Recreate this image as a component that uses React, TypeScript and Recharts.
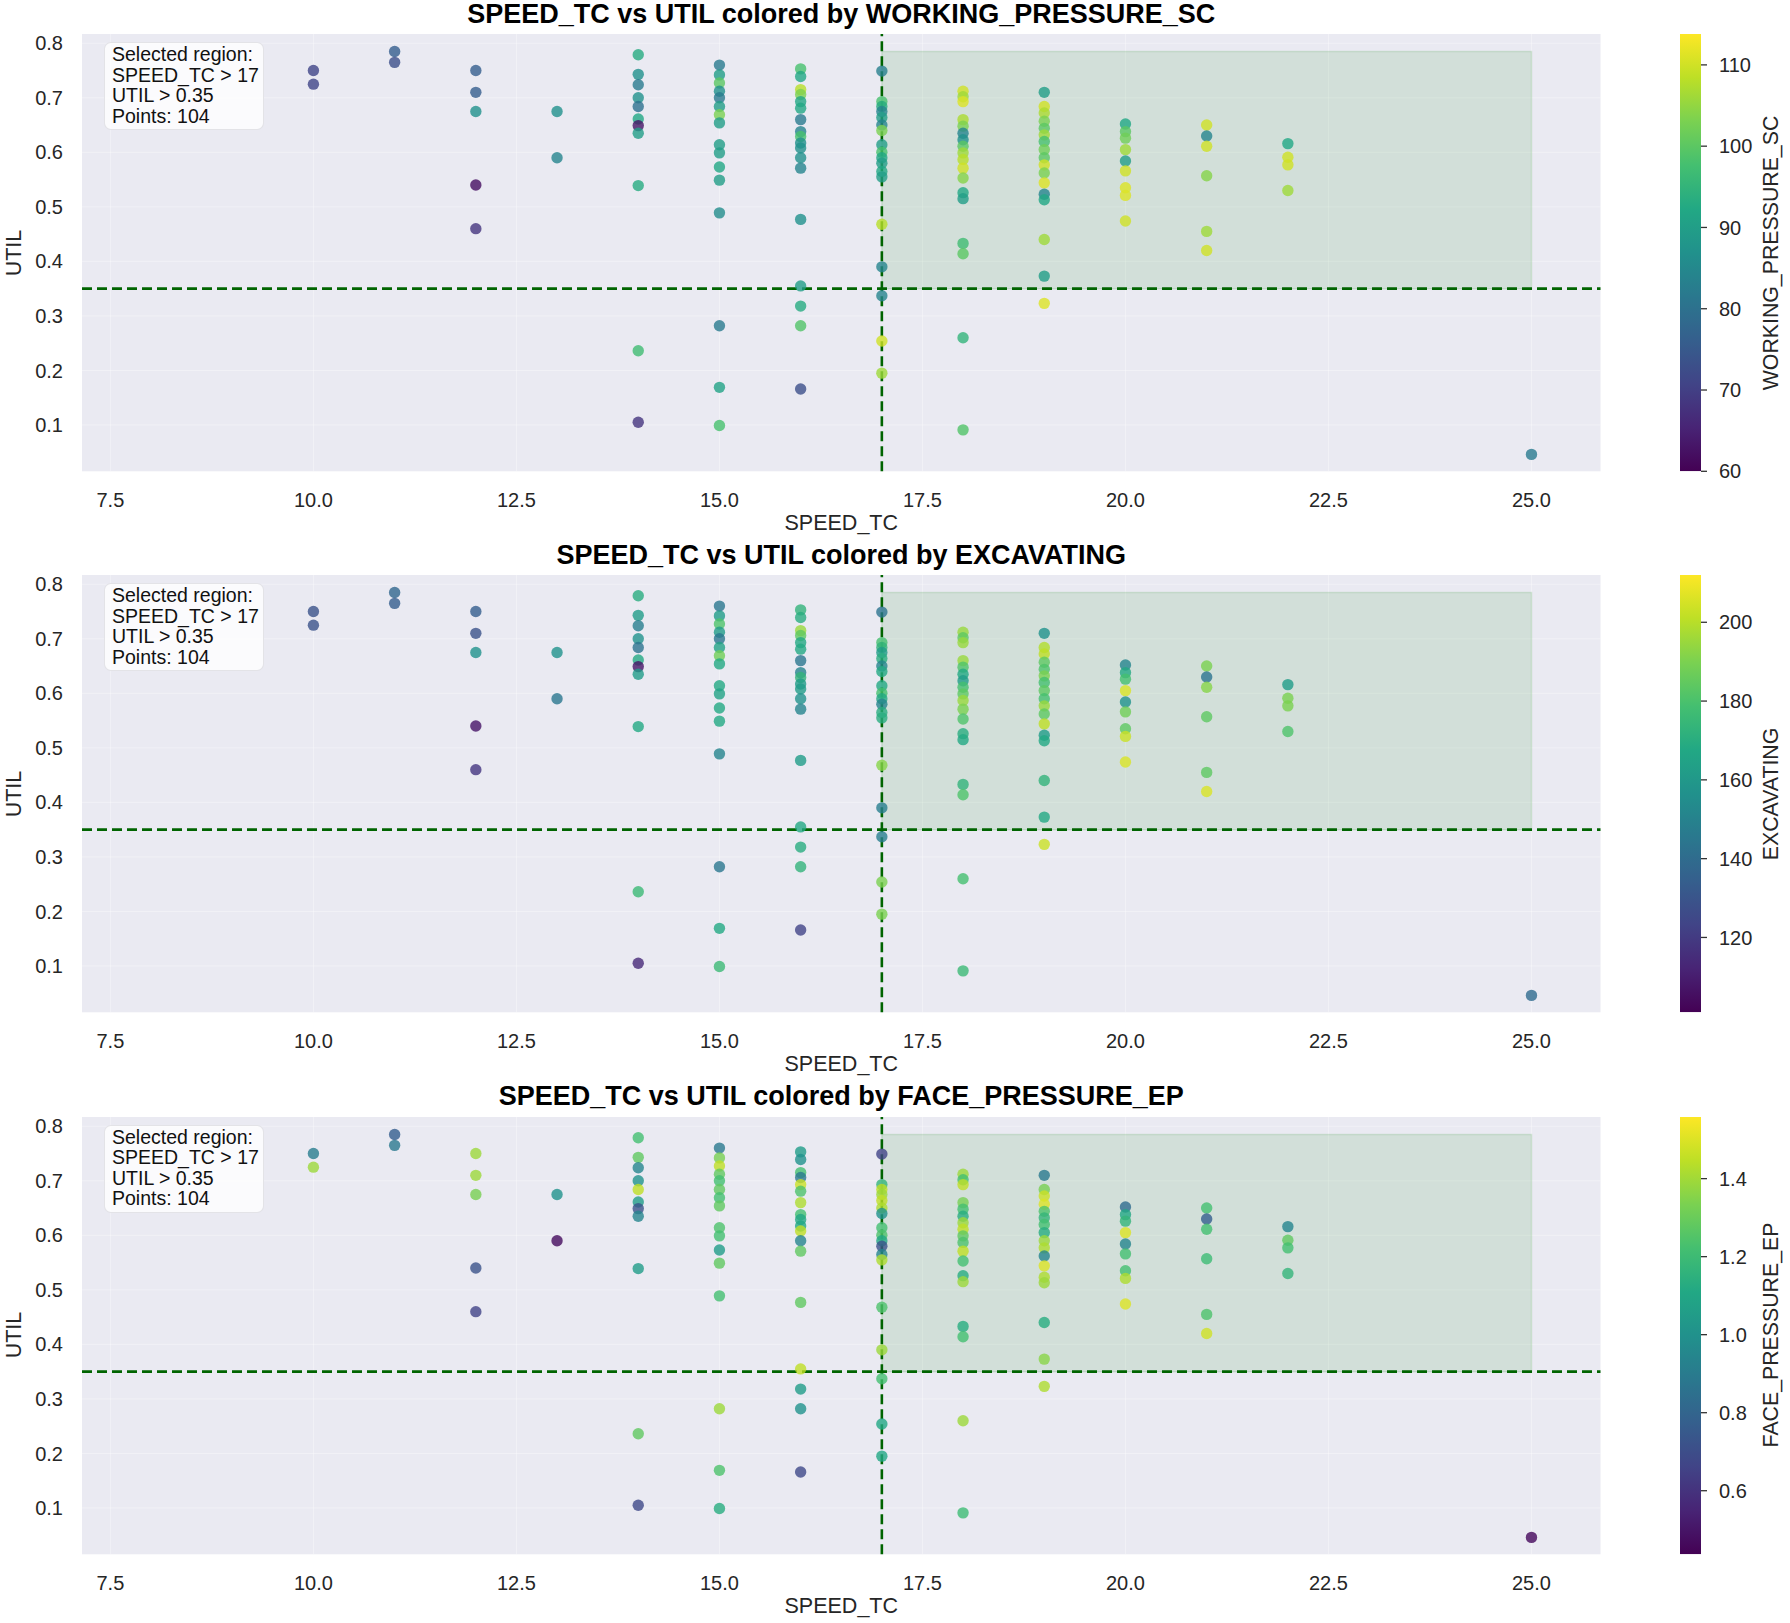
import React from 'react';
import {
  ScatterChart, Scatter, XAxis, YAxis, CartesianGrid, ReferenceLine, ReferenceArea,
  BarChart, Bar,
} from 'recharts';

// ---------------- data ----------------
const SPEED_TC = [
  10, 10,
  11, 11,
  12, 12, 12, 12, 12,
  13, 13,
  14, 14, 14, 14, 14, 14, 14, 14, 14, 14, 14,
  15, 15, 15, 15, 15, 15, 15, 15, 15, 15, 15, 15, 15, 15, 15, 15,
  16, 16, 16, 16, 16, 16, 16, 16, 16, 16, 16, 16, 16, 16, 16, 16, 16, 16,
  17, 17, 17, 17, 17, 17, 17, 17, 17, 17, 17, 17, 17, 17, 17, 17, 17, 17,
  18, 18, 18, 18, 18, 18, 18, 18, 18, 18, 18, 18, 18, 18, 18, 18, 18, 18,
  19, 19, 19, 19, 19, 19, 19, 19, 19, 19, 19, 19, 19, 19, 19, 19, 19,
  20, 20, 20, 20, 20, 20, 20, 20, 20,
  21, 21, 21, 21, 21, 21,
  22, 22, 22, 22,
  25,
];

const UTIL = [
  0.750, 0.725,
  0.785, 0.765,
  0.750, 0.710, 0.675, 0.540, 0.460,
  0.675, 0.590,
  0.779, 0.743, 0.724, 0.700, 0.684, 0.661, 0.649, 0.635, 0.539, 0.236, 0.105,
  0.760, 0.742, 0.727, 0.712, 0.700, 0.684, 0.669, 0.654, 0.614, 0.599, 0.573, 0.549, 0.489, 0.282, 0.169, 0.099,
  0.753, 0.739, 0.715, 0.706, 0.693, 0.681, 0.660, 0.638, 0.629, 0.617, 0.608, 0.590, 0.571, 0.477, 0.355, 0.318, 0.282, 0.166,
  0.749, 0.693, 0.684, 0.675, 0.664, 0.650, 0.640, 0.614, 0.600, 0.590, 0.580, 0.565, 0.555, 0.468, 0.390, 0.337, 0.254, 0.195,
  0.712, 0.702, 0.693, 0.660, 0.648, 0.635, 0.623, 0.611, 0.599, 0.587, 0.571, 0.553, 0.526, 0.515, 0.433, 0.414, 0.260, 0.091,
  0.710, 0.684, 0.672, 0.657, 0.644, 0.632, 0.620, 0.605, 0.590, 0.577, 0.562, 0.544, 0.523, 0.513, 0.440, 0.373, 0.323,
  0.652, 0.638, 0.626, 0.605, 0.584, 0.566, 0.535, 0.521, 0.474,
  0.650, 0.630, 0.611, 0.557, 0.455, 0.420,
  0.616, 0.591, 0.577, 0.530,
  0.046,
];

const WORKING_PRESSURE_SC = [
  71, 71,
  76, 73,
  76, 76, 87, 62, 68,
  87, 84,
  93, 87, 82, 87, 80, 92, 63, 90, 93, 97, 68,
  82, 90, 100, 87, 82, 90, 103, 90, 90, 90, 92, 90, 86, 82, 91, 98,
  98, 92, 108, 103, 92, 92, 82, 84, 98, 87, 87, 87, 84, 87, 90, 93, 99, 73,
  83, 98, 93, 84, 90, 84, 103, 90, 98, 92, 90, 92, 90, 108, 84, 84, 110, 106,
  110, 106, 111, 107, 103, 84, 87, 100, 106, 108, 110, 104, 92, 90, 97, 100, 95, 99,
  90, 110, 107, 103, 100, 106, 98, 102, 100, 110, 103, 111, 84, 92, 106, 90, 111,
  92, 100, 102, 106, 90, 110, 111, 111, 110,
  110, 84, 110, 104, 106, 110,
  92, 110, 110, 106,
  82,
];

const EXCAVATING = [
  129, 129,
  138, 134,
  134, 129, 157, 107, 118,
  157, 145,
  170, 162, 148, 157, 143, 168, 107, 162, 168, 176, 114,
  145, 162, 181, 162, 145, 165, 188, 168, 168, 165, 168, 168, 151, 145, 168, 176,
  173, 170, 195, 184, 168, 168, 145, 151, 173, 162, 162, 157, 151, 162, 168, 170, 173, 123,
  143, 179, 173, 162, 170, 151, 168, 168, 179, 168, 151, 170, 170, 192, 148, 148, 190, 190,
  195, 184, 195, 195, 181, 168, 162, 179, 184, 195, 190, 181, 170, 168, 173, 181, 179, 176,
  157, 199, 201, 184, 181, 190, 179, 184, 179, 195, 184, 201, 162, 168, 173, 168, 203,
  151, 168, 179, 206, 157, 188, 184, 203, 206,
  190, 143, 192, 184, 184, 206,
  162, 190, 190, 181,
  140,
];

const FACE_PRESSURE_EP = [
  0.91, 1.39,
  0.77, 0.89,
  1.39, 1.39, 1.33, 0.72, 0.66,
  1.00, 0.47,
  1.22, 1.28, 0.94, 1.00, 1.45, 1.05, 0.72, 0.94, 1.05, 1.28, 0.68,
  0.89, 1.33, 1.45, 1.28, 1.22, 1.28, 1.22, 1.28, 1.24, 1.22, 1.05, 1.28, 1.22, 1.39, 1.24, 1.13,
  1.05, 1.00, 1.22, 0.89, 1.47, 1.24, 1.42, 1.22, 1.11, 1.11, 1.45, 0.94, 1.28, 1.28, 1.45, 1.05, 1.00, 0.68,
  0.66, 1.17, 1.45, 1.39, 1.45, 1.42, 1.00, 1.22, 1.24, 1.11, 0.72, 0.94, 1.42, 1.24, 1.39, 1.22, 1.11, 1.11,
  1.39, 1.22, 1.45, 1.33, 1.22, 1.13, 1.39, 1.45, 1.28, 1.24, 1.45, 1.22, 1.13, 1.39, 1.13, 1.22, 1.39, 1.20,
  0.89, 1.33, 1.47, 1.50, 1.24, 1.17, 1.22, 1.13, 1.39, 1.42, 0.94, 1.50, 1.42, 1.39, 1.13, 1.36, 1.42,
  0.83, 1.11, 1.17, 1.50, 0.94, 1.22, 1.22, 1.42, 1.50,
  1.22, 0.77, 1.22, 1.20, 1.24, 1.48,
  0.94, 1.28, 1.22, 1.17,
  0.46,
];

const X_TICKS = [7.5, 10, 12.5, 15, 17.5, 20, 22.5, 25];
const Y_TICKS = [0.1, 0.2, 0.3, 0.4, 0.5, 0.6, 0.7, 0.8];
const WP_TICKS = [60, 70, 80, 90, 100, 110];
const EXC_TICKS = [120, 140, 160, 180, 200];
const FP_TICKS = [0.6, 0.8, 1.0, 1.2, 1.4];

const SPEED_THRESHOLD = 17;
const UTIL_THRESHOLD = 0.35;
const REGION_X_MAX = 25;
const REGION_Y_MAX = 0.785;
const SELECTED_POINTS = 104;

// ---------------- style / layout ----------------
const FONT = '"Liberation Sans", Arial, Helvetica, sans-serif';
const TEXT = '#262626';
const BG = '#EAEAF2';
const X_DOMAIN: [number, number] = [7.15, 25.85];
const Y_DOMAIN: [number, number] = [0.015, 0.817];
const PLOT_TOPS = [34.2, 575.4, 1116.5];
const PLOT_H = 437.3;
const CHART_H = 541;
const MARGIN_TOP = 34;
const PLOT_LEFT = 82;
const PLOT_RIGHT = 1600.5;
const CB_LEFT = 1680;
const CB_W = 21;

const VIRIDIS = ['#440154', '#482475', '#414487', '#355f8d', '#2a788e', '#21918c', '#22a884', '#44bf70', '#7ad151', '#bddf26', '#fde725'];

function hexToRgb(h: string) {
  return [parseInt(h.slice(1, 3), 16), parseInt(h.slice(3, 5), 16), parseInt(h.slice(5, 7), 16)];
}
function viridis(t: number) {
  const c = Math.max(0, Math.min(1, t));
  const s = c * 10;
  const i = Math.min(9, Math.floor(s));
  const f = s - i;
  const a = hexToRgb(VIRIDIS[i]);
  const b = hexToRgb(VIRIDIS[i + 1]);
  const m = a.map((v, k) => Math.round(v + (b[k] - v) * f));
  return `rgb(${m[0]},${m[1]},${m[2]})`;
}

type Panel = {
  name: string;
  values: number[];
  range: [number, number];
  ticks: number[];
  fmt: (v: number) => string;
  gid: string;
};

const PANELS: Panel[] = [
  { name: 'WORKING_PRESSURE_SC', values: WORKING_PRESSURE_SC, range: [60, 113.8], ticks: WP_TICKS, fmt: (v) => String(v), gid: 'cb0' },
  { name: 'EXCAVATING', values: EXCAVATING, range: [101, 212], ticks: EXC_TICKS, fmt: (v) => String(v), gid: 'cb1' },
  { name: 'FACE_PRESSURE_EP', values: FACE_PRESSURE_EP, range: [0.437, 1.558], ticks: FP_TICKS, fmt: (v) => v.toFixed(1), gid: 'cb2' },
];

const Dot = (p: any) => {
  if (p.cx == null || p.cy == null) return null;
  return <circle cx={p.cx} cy={p.cy} r={5.7} fill={p.payload.color} fillOpacity={0.8} />;
};

function PanelChart({ panel, index }: { panel: Panel; index: number }) {
  const plotTop = PLOT_TOPS[index];
  const top = plotTop - MARGIN_TOP;
  const [lo, hi] = panel.range;
  const data = SPEED_TC.map((x, i) => ({
    x,
    y: UTIL[i],
    color: viridis((panel.values[i] - lo) / (hi - lo)),
  }));
  const tickStyle = { fill: TEXT, fontSize: 20, fontFamily: FONT };
  return (
    <>
      <div style={{ position: 'absolute', left: 0, top }}>
        <ScatterChart
          width={1790}
          height={CHART_H}
          margin={{ top: MARGIN_TOP, right: 1790 - PLOT_RIGHT, bottom: CHART_H - MARGIN_TOP - PLOT_H - 60, left: 0 }}
        >
          <CartesianGrid fill={BG} stroke="#ffffff" strokeOpacity={0.35} horizontalValues={Y_TICKS} verticalValues={X_TICKS} />
          <XAxis
            type="number" dataKey="x" domain={X_DOMAIN} ticks={X_TICKS} allowDataOverflow
            tickFormatter={(v: number) => v.toFixed(1)} axisLine={false} tickLine={false}
            tickSize={6} tickMargin={15} height={60} tick={tickStyle} interval={0}
          />
          <YAxis
            type="number" dataKey="y" domain={Y_DOMAIN} ticks={Y_TICKS} allowDataOverflow
            tickFormatter={(v: number) => v.toFixed(1)} axisLine={false} tickLine={false}
            tickSize={6} tickMargin={13} width={PLOT_LEFT} tick={tickStyle} interval={0}
          />
          <ReferenceArea
            x1={SPEED_THRESHOLD} x2={REGION_X_MAX} y1={UTIL_THRESHOLD} y2={REGION_Y_MAX}
            fill="#008000" fillOpacity={0.1} stroke="#008000" strokeOpacity={0.12} strokeWidth={1.5}
          />
          <Scatter data={data} shape={Dot} isAnimationActive={false} />
          <ReferenceLine x={SPEED_THRESHOLD} stroke="#006400" strokeWidth={2.6} strokeDasharray="10 5" />
          <ReferenceLine y={UTIL_THRESHOLD} stroke="#006400" strokeWidth={2.6} strokeDasharray="10 5" />
        </ScatterChart>
      </div>

      {/* colorbar */}
      <div style={{ position: 'absolute', left: CB_LEFT, top }}>
        <BarChart
          width={108}
          height={CHART_H}
          data={[{ name: panel.name, span: [lo, hi] }]}
          margin={{ top: MARGIN_TOP, right: 0, bottom: CHART_H - MARGIN_TOP - PLOT_H, left: 0 }}
          barCategoryGap={0}
        >
          <XAxis dataKey="name" hide />
          <YAxis
            orientation="right" type="number" domain={[lo, hi]} ticks={panel.ticks} allowDataOverflow
            tickFormatter={panel.fmt} axisLine={false} tickLine={{ stroke: '#333', strokeWidth: 1.3 }}
            tickSize={6} tickMargin={12} width={108 - CB_W} interval={0}
            tick={{ fill: TEXT, fontSize: 20, fontFamily: FONT }}
          />
          <Bar dataKey="span" fill={`url(#${panel.gid})`} isAnimationActive={false} />
        </BarChart>
      </div>

      {/* titles & labels */}
      <div style={{
        position: 'absolute', left: (PLOT_LEFT + PLOT_RIGHT) / 2, top: plotTop - 20.5,
        transform: 'translate(-50%, -50%)', whiteSpace: 'nowrap', fontWeight: 'bold', fontSize: 27,
        lineHeight: '28px', color: '#000',
      }}>
        SPEED_TC vs UTIL colored by {panel.name}
      </div>
      <div style={{
        position: 'absolute', left: (PLOT_LEFT + PLOT_RIGHT) / 2, top: plotTop + 489,
        transform: 'translate(-50%, -50%)', whiteSpace: 'nowrap', fontSize: 21.5, lineHeight: '24px', color: TEXT,
      }}>
        SPEED_TC
      </div>
      <div style={{
        position: 'absolute', left: 14, top: plotTop + PLOT_H / 2,
        transform: 'translate(-50%, -50%) rotate(-90deg)', whiteSpace: 'nowrap', fontSize: 21.5, lineHeight: '24px', color: TEXT,
      }}>
        UTIL
      </div>
      <div style={{
        position: 'absolute', left: 1771, top: plotTop + PLOT_H / 2,
        transform: 'translate(-50%, -50%) rotate(-90deg)', whiteSpace: 'nowrap', fontSize: 21.3, lineHeight: '24px', color: TEXT,
      }}>
        {panel.name}
      </div>
      <div style={{
        position: 'absolute', left: 104, top: plotTop + 8, width: 160, height: 88, boxSizing: 'border-box',
        background: 'rgba(255,255,255,0.82)', borderRadius: 7, border: '1px solid rgba(220,220,225,0.8)',
        padding: '1px 0 0 7px', fontSize: 19.5, lineHeight: '20.5px', color: '#111', whiteSpace: 'nowrap',
      }}>
        <div>Selected region:</div>
        <div>SPEED_TC &gt; {SPEED_THRESHOLD}</div>
        <div>UTIL &gt; {UTIL_THRESHOLD}</div>
        <div>Points: {SELECTED_POINTS}</div>
      </div>
    </>
  );
}

export default function App() {
  return (
    <div style={{ position: 'absolute', left: 0, top: 0, width: 1790, height: 1623, background: '#fff', fontFamily: FONT, overflow: 'hidden' }}>
      <svg width={0} height={0} style={{ position: 'absolute' }}>
        <defs>
          {PANELS.map((p) => (
            <linearGradient key={p.gid} id={p.gid} x1="0" y1="1" x2="0" y2="0">
              {VIRIDIS.map((c, i) => (
                <stop key={i} offset={i / 10} stopColor={c} />
              ))}
            </linearGradient>
          ))}
        </defs>
      </svg>
      {PANELS.map((p, i) => (
        <PanelChart key={p.name} panel={p} index={i} />
      ))}
    </div>
  );
}
